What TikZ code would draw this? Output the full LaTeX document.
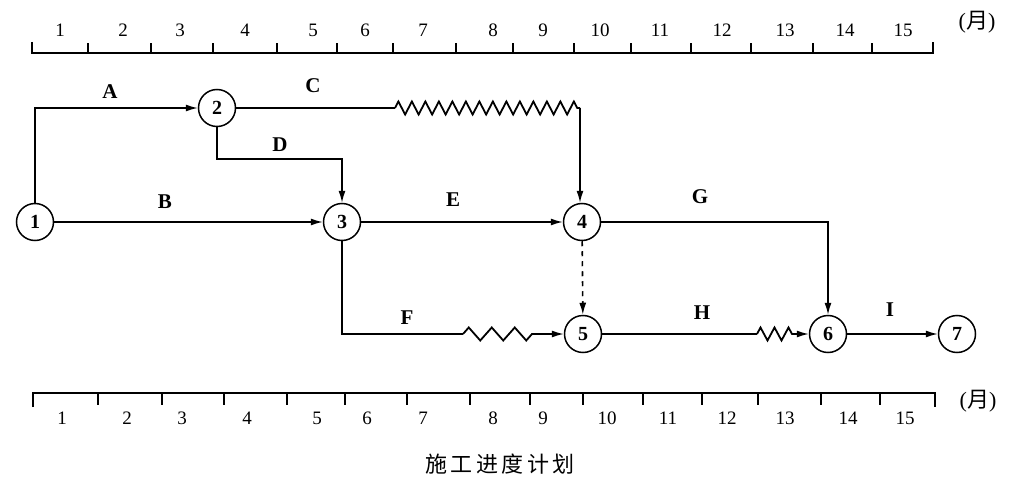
\documentclass[tikz,border=0pt]{standalone}
\usepackage{fontspec}
\setmainfont{Liberation Serif}
\newfontfamily\cjk{Noto Sans CJK SC}
\usetikzlibrary{arrows.meta,decorations.pathmorphing,calc}
\begin{document}
\begin{tikzpicture}[x=1pt,y=-1pt,
  line width=1.4pt,
  ev/.style={circle,draw,line width=1.5pt,minimum size=37pt,inner sep=0pt,font=\bfseries\fontsize{20}{20}\selectfont},
  lab/.style={font=\bfseries\fontsize{21}{21}\selectfont},
  num/.style={font=\fontsize{19}{19}\selectfont},
  mon/.style={font=\fontsize{22}{22}\selectfont},
  ln/.style={line width=1.4pt},
  arr/.style={line width=1.4pt,-{Latex[length=12pt,width=7pt]}},
  zig/.style={line width=1.8pt,line join=miter,decorate,decoration={zigzag,segment length=#1,amplitude=6.5pt}},
  dsh/.style={line width=1.6pt,dash pattern=on 5pt off 5pt},
]
\path[fill=white,use as bounding box] (0,0) rectangle (1036,492);

% top scale
\draw (32,42) -- (32,53) -- (933,53) -- (933,42);
\foreach \x in {88,151,213,277,337,393,456,513,574,631,691,751,813,872}
  \draw (\x,53) -- (\x,43);
\foreach \x/\t in {60/1,123/2,180/3,245/4,313/5,365/6,423/7,493/8,543/9,600/10,660/11,722/12,785/13,845/14,903/15}
  \node[num] (t\t) at (\x,30) {\t};
\node[mon] (tm) at (977,22) {({\cjk 月})};

% bottom scale
\draw (33,407) -- (33,393) -- (935,393) -- (935,407);
\foreach \x in {98,162,224,287,345,407,470,530,583,643,702,758,821,880}
  \draw (\x,393) -- (\x,405);
\foreach \x/\t in {62/1,127/2,182/3,247/4,317/5,367/6,423/7,493/8,543/9,607/10,668/11,727/12,785/13,848/14,905/15}
  \node[num] (b\t) at (\x,418) {\t};
\node[mon] (bm) at (978,401) {({\cjk 月})};

% events
\node[ev] (n1) at (35,222) {1};
\node[ev] (n2) at (217,108) {2};
\node[ev] (n3) at (342,222) {3};
\node[ev] (n4) at (582,222) {4};
\node[ev] (n5) at (583,334) {5};
\node[ev] (n6) at (828,334) {6};
\node[ev] (n7) at (957,334) {7};

\coordinate (c1) at (395,108);
\coordinate (c2) at (580,108);
\coordinate (d1) at (217,159);
\coordinate (f1) at (463,334);
\coordinate (f2) at (540,334);
\coordinate (h1) at (757,334);
\coordinate (h2) at (793,334);

% activities
\draw[arr] (n1) |- (n2);
\draw[arr] (n1) -- (n3);
\draw[ln] (n2) -- (c1);
\draw[zig=13.5pt] (c1) -- (c2);
\draw[arr] (c2) -- (c2 |- n4.north);
\draw[arr] (n2) -- (d1) -| (n3);
\draw[arr] (n3) -- (n4);
\draw[ln] (n3) |- (f1);
\draw[zig=23pt] (f1) -- (f2);
\draw[arr] (f2) -- (n5);
\draw[arr,dsh] (n4) -- (n5);
\draw[arr] (n4) -| (n6);
\draw[ln] (n5) -- (h1);
\draw[zig=14pt] (h1) -- (h2);
\draw[arr] (h2) -- (n6);
\draw[arr] (n6) -- (n7);

% labels
\node[lab] (lA) at (110,92) {A};
\node[lab] (lB) at (165,202) {B};
\node[lab] (lC) at (313,86) {C};
\node[lab] (lD) at (280,145) {D};
\node[lab] (lE) at (453,200) {E};
\node[lab] (lF) at (407,318) {F};
\node[lab] (lG) at (700,197) {G};
\node[lab] (lH) at (702,313) {H};
\node[lab] (lI) at (890,310) {I};

\node[font=\cjk\fontsize{22}{22}\selectfont\addfontfeatures{LetterSpace=16}] (title) at (500,464) {施工进度计划};
\end{tikzpicture}
\end{document}
